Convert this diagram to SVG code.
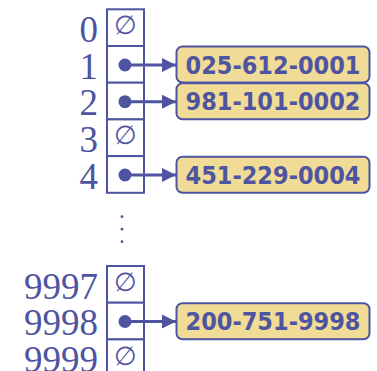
<svg xmlns="http://www.w3.org/2000/svg" width="377" height="371" viewBox="0 0 377 371">
<defs>
<style>
.cell{fill:#fff;stroke:#4E54A0;stroke-width:2}
.idx{font-family:"Liberation Serif","Times New Roman",serif;font-size:37px;fill:#4E54A0;text-anchor:end}
.nul{font-family:"DejaVu Serif",serif;font-size:26px;fill:#4E54A0;text-anchor:middle}
.box{fill:#F0DC96;stroke:#4E54A0;stroke-width:2}
.num{font-family:"DejaVu Sans",Verdana,sans-serif;font-weight:bold;font-size:24px;fill:#4E54A0;text-anchor:middle}
.dot{fill:#4E54A0}
.link{stroke:#4E54A0;stroke-width:3;fill:none;marker-end:url(#ah)}
</style>
<marker id="ah" markerUnits="userSpaceOnUse" markerWidth="15" markerHeight="15" refX="14" refY="7" orient="auto">
<path d="M0,0 L14,7 L0,14 z" fill="#4E54A0"/>
</marker>
</defs>
<g id="row0"><rect class="cell" x="107" y="9.3" width="37" height="36.7"/><text class="idx" x="98" y="42">0</text><text class="nul" x="125.5" y="34">∅</text></g>
<g id="row1"><rect class="cell" x="107" y="46" width="37" height="36.7"/><text class="idx" x="98" y="78.7">1</text><circle class="dot" cx="125" cy="65" r="6.5"/></g>
<g id="row2"><rect class="cell" x="107" y="82.7" width="37" height="36.7"/><text class="idx" x="98" y="115.3">2</text><circle class="dot" cx="125" cy="101.7" r="6.5"/></g>
<g id="row3"><rect class="cell" x="107" y="119.4" width="37" height="36.7"/><text class="idx" x="98" y="152">3</text><text class="nul" x="125.5" y="144">∅</text></g>
<g id="row4"><rect class="cell" x="107" y="156.1" width="37" height="36.7"/><text class="idx" x="98" y="188.7">4</text><circle class="dot" cx="125" cy="175" r="6.5"/></g>
<g id="ellipsis"><circle class="dot" cx="122" cy="216.7" r="1.4"/><circle class="dot" cx="122" cy="229.2" r="1.4"/><circle class="dot" cx="122" cy="241.7" r="1.4"/></g>
<g id="row9997"><rect class="cell" x="107" y="266" width="37" height="36.7"/><text class="idx" x="98" y="298.5">9997</text><text class="nul" x="125.5" y="291">∅</text></g>
<g id="row9998"><rect class="cell" x="107" y="302.7" width="37" height="36.7"/><text class="idx" x="98" y="335.2">9998</text><circle class="dot" cx="125" cy="321.5" r="6.5"/></g>
<g id="row9999"><rect class="cell" x="107" y="339.4" width="37" height="40"/><text class="idx" x="98" y="372">9999</text><text class="nul" x="125.5" y="364.5">∅</text></g>
<g id="entry1"><rect class="box" x="176.5" y="46.5" width="193" height="36" rx="6"/><text class="num" x="273" y="73.5" textLength="175" lengthAdjust="spacingAndGlyphs">025-612-0001</text></g>
<g id="entry2"><rect class="box" x="176.5" y="83.3" width="193" height="36" rx="6"/><text class="num" x="273" y="110.3" textLength="175" lengthAdjust="spacingAndGlyphs">981-101-0002</text></g>
<g id="entry4"><rect class="box" x="176.5" y="156.8" width="193" height="36" rx="6"/><text class="num" x="273" y="183.8" textLength="175" lengthAdjust="spacingAndGlyphs">451-229-0004</text></g>
<g id="entry9998"><rect class="box" x="176.5" y="303.2" width="193" height="36" rx="6"/><text class="num" x="273" y="330.2" textLength="175" lengthAdjust="spacingAndGlyphs">200-751-9998</text></g>
<g id="connectors">
<line class="link" x1="125" y1="65" x2="176" y2="65"/>
<line class="link" x1="125" y1="101.7" x2="176" y2="101.7"/>
<line class="link" x1="125" y1="175" x2="176" y2="175"/>
<line class="link" x1="125" y1="321.5" x2="176" y2="321.5"/>
</g>
</svg>
